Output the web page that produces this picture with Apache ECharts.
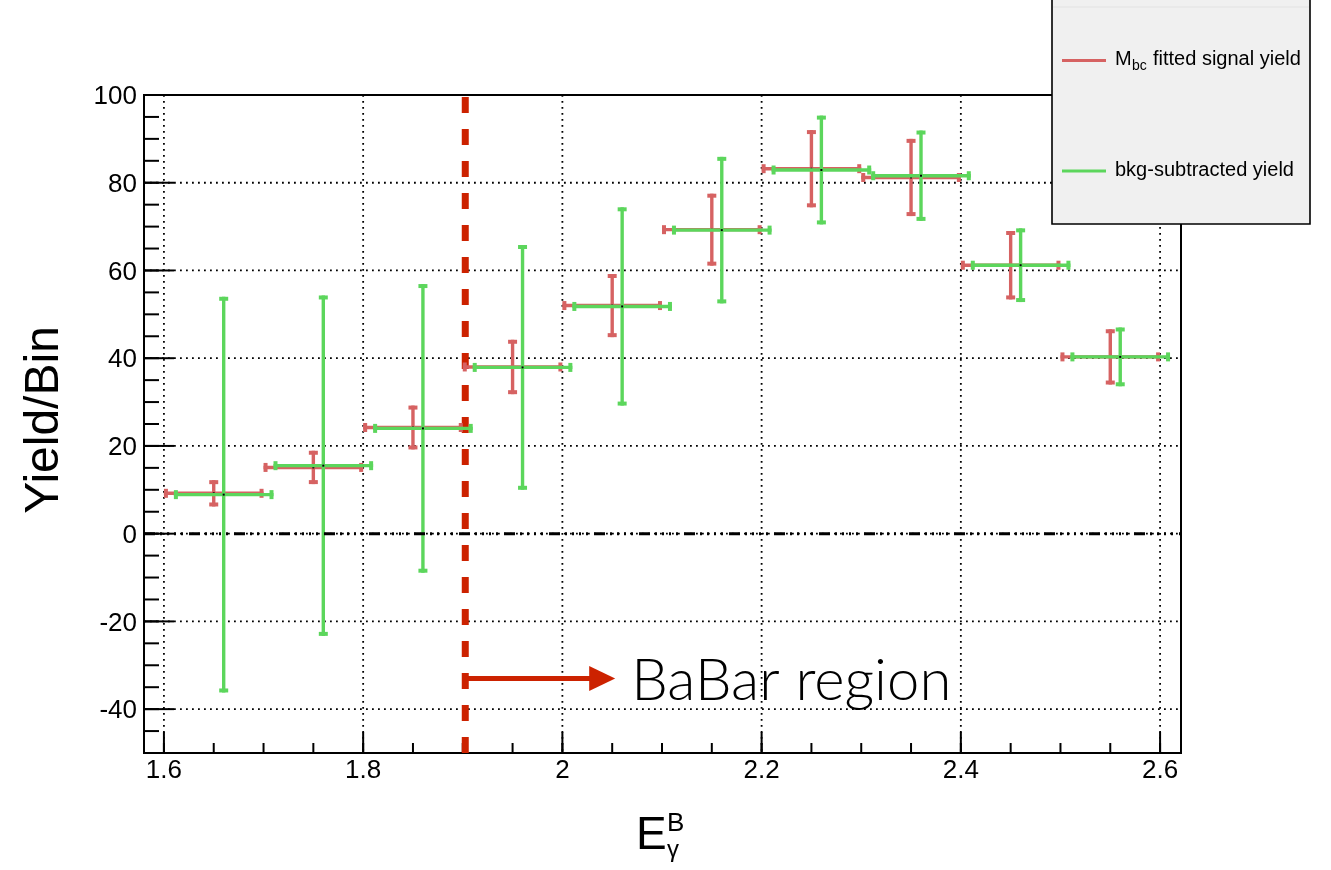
<!DOCTYPE html>
<html>
<head>
<meta charset="utf-8">
<title>Yield per bin vs photon energy</title>
<script src="https://cdn.jsdelivr.net/npm/echarts@6/dist/echarts.min.js"></script>
<style>
  html, body { margin: 0; padding: 0; background: #ffffff; }
  #chart { width: 1331px; height: 870px; }
</style>
</head>
<body>
<div id="chart"></div>
<script>
// ---- data -------------------------------------------------------------
// Mbc fitted signal yield: bin centres, yields, symmetric errors
const binHalfWidth = 0.05;
const fitCenters = [1.65, 1.75, 1.85, 1.95, 2.05, 2.15, 2.25, 2.35, 2.45, 2.55];
const fitYields  = [9.2, 15.1, 24.2, 38.0, 52.0, 69.3, 83.2, 81.2, 61.2, 40.3];
const fitErrors  = [3.0, 3.8, 5.0, 6.2, 7.2, 8.2, 8.8, 8.8, 7.8, 6.3];
// background-subtracted yield (drawn slightly shifted in x)
const subCenters = [1.66, 1.76, 1.86, 1.96, 2.06, 2.16, 2.26, 2.36, 2.46, 2.56];
const subYields  = [8.9, 15.5, 24.0, 37.9, 51.8, 69.2, 82.9, 81.6, 61.2, 40.3];
const subErrors  = [45.1, 38.8, 32.9, 27.9, 22.6, 16.7, 12.4, 10.3, 8.4, 6.7];
// axis ticks
const xTicks = [1.6, 1.8, 2.0, 2.2, 2.4, 2.6];
const xTickLabels = ['1.6', '1.8', '2', '2.2', '2.4', '2.6'];
const yTicks = [-40, -20, 0, 20, 40, 60, 80, 100];
const yTickLabels = ['-40', '-20', '0', '20', '40', '60', '80', '100'];
// BaBar acceptance edge and arrow
const babarEdge = 1.9025;
const arrowY = -33;
const arrowTipX = 2.053;
const babarLabel = 'BaBar region';
const legendLabels = ['fitted signal yield', 'bkg-subtracted yield'];

// ---- layout / style ---------------------------------------------------
const X_RANGE = [1.58, 2.621];
const Y_RANGE = [-50, 100];
const X_MINOR = 0.05, Y_MINOR = 5;
const FONT = '"Liberation Sans", Arial, Helvetica, sans-serif';
const RED = '#d66262';
const GREEN = '#5cd65c';
const BABAR_RED = '#cc2200';

const chart = echarts.init(document.getElementById('chart'), null, { renderer: 'canvas' });

function txt(text, x, y, size, align) {
  return {
    type: 'text',
    style: {
      text: text, x: x, y: y, fill: '#000',
      font: size + 'px ' + FONT,
      align: align || 'center', verticalAlign: 'middle'
    }
  };
}

// frame: dotted grid, tick marks, tick labels
function renderFrame(params, api) {
  const bl = api.coord([X_RANGE[0], Y_RANGE[0]]);
  const tr = api.coord([X_RANGE[1], Y_RANGE[1]]);
  const xl = bl[0], yb = bl[1], xr = tr[0], yt = tr[1];
  const kids = [];
  const dotted = { stroke: '#000', lineWidth: 1.8, lineDash: [1.8, 4.2] };
  const solid = { stroke: '#000', lineWidth: 2 };
  xTicks.forEach(function (v, i) {
    const px = api.coord([v, 0])[0];
    kids.push({ type: 'line', shape: { x1: px, y1: yt, x2: px, y2: yb }, style: dotted });
    kids.push({ type: 'line', shape: { x1: px, y1: yb, x2: px, y2: yb - 21 }, style: solid });
    kids.push(txt(xTickLabels[i], px, yb + 18, 26, 'center'));
  });
  yTicks.forEach(function (v, i) {
    const py = api.coord([X_RANGE[0], v])[1];
    kids.push({ type: 'line', shape: { x1: xl, y1: py, x2: xr, y2: py }, style: dotted });
    kids.push({ type: 'line', shape: { x1: xl, y1: py, x2: xl + 30, y2: py }, style: solid });
    kids.push(txt(yTickLabels[i], xl - 7, py + 2, 26, 'right'));
  });
  // minor ticks
  for (let v = xTicks[0]; v <= X_RANGE[1] + 1e-9; v += X_MINOR) {
    const px = api.coord([v, 0])[0];
    kids.push({ type: 'line', shape: { x1: px, y1: yb, x2: px, y2: yb - 10 }, style: solid });
  }
  for (let v = Y_RANGE[0]; v <= Y_RANGE[1] + 1e-9; v += Y_MINOR) {
    const py = api.coord([X_RANGE[0], v])[1];
    kids.push({ type: 'line', shape: { x1: xl, y1: py, x2: xl + 15, y2: py }, style: solid });
  }
  return { type: 'group', children: kids };
}

// dashed BaBar edge with arrow and label
function renderBabar(params, api) {
  const top = api.coord([babarEdge, Y_RANGE[1]]);
  const bot = api.coord([babarEdge, Y_RANGE[0]]);
  const start = api.coord([babarEdge, arrowY]);
  const tip = api.coord([arrowTipX, arrowY]);
  const head = 26, half = 12.5;
  return {
    type: 'group',
    children: [
      { type: 'line', shape: { x1: top[0], y1: top[1] + 2, x2: bot[0], y2: bot[1] },
        style: { stroke: BABAR_RED, lineWidth: 7, lineDash: [16, 16] } },
      { type: 'line', shape: { x1: start[0], y1: start[1], x2: tip[0] - head + 1, y2: tip[1] },
        style: { stroke: BABAR_RED, lineWidth: 5 } },
      { type: 'polygon',
        shape: { points: [[tip[0] - head, tip[1] - half], [tip[0], tip[1]], [tip[0] - head, tip[1] + half]] },
        style: { fill: BABAR_RED } },
      { type: 'text',
        style: { text: babarLabel, x: tip[0] + 16, y: tip[1] + 3, fill: '#000',
                 font: '300 58px Lato, "Open Sans", sans-serif', align: 'left', verticalAlign: 'middle' } }
    ]
  };
}

// error-bar cross: horizontal bin width, vertical error, end caps, centre dot
function makeErrorBar(color) {
  return function (params, api) {
    const cx = api.value(0), cy = api.value(1), err = api.value(2);
    const c = api.coord([cx, cy]);
    const l = api.coord([cx - binHalfWidth, cy]);
    const r = api.coord([cx + binHalfWidth, cy]);
    const t = api.coord([cx, cy + err]);
    const b = api.coord([cx, cy - err]);
    const lw = 3.4, cap = 9, capT = 4;
    const st = { stroke: color, lineWidth: lw };
    return {
      type: 'group',
      children: [
        { type: 'line', shape: { x1: l[0], y1: l[1], x2: r[0], y2: r[1] }, style: st },
        { type: 'line', shape: { x1: t[0], y1: t[1], x2: b[0], y2: b[1] }, style: st },
        { type: 'rect', shape: { x: l[0], y: l[1] - cap / 2, width: capT, height: cap }, style: { fill: color } },
        { type: 'rect', shape: { x: r[0] - capT, y: r[1] - cap / 2, width: capT, height: cap }, style: { fill: color } },
        { type: 'rect', shape: { x: t[0] - cap / 2, y: t[1], width: cap, height: capT }, style: { fill: color } },
        { type: 'rect', shape: { x: b[0] - cap / 2, y: b[1] - capT, width: cap, height: capT }, style: { fill: color } },
        { type: 'rect', shape: { x: c[0] - 1, y: c[1] - 1, width: 2, height: 2 }, style: { fill: '#000' } }
      ]
    };
  };
}

// dash-dot line at zero yield
function renderZero(params, api) {
  const a = api.coord([X_RANGE[0], 0]);
  const b = api.coord([X_RANGE[1], 0]);
  return { type: 'line', shape: { x1: a[0], y1: a[1], x2: b[0], y2: b[1] },
           style: { stroke: '#000', lineWidth: 3, lineDash: [11, 5, 2, 5, 2, 5, 2, 5, 2, 6] } };
}

const option = {
  animation: false,
  backgroundColor: '#ffffff',
  grid: {
    left: 144, top: 95, right: 150, bottom: 117,
    show: true, borderColor: '#000', borderWidth: 2, backgroundColor: 'transparent'
  },
  xAxis: { type: 'value', min: X_RANGE[0], max: X_RANGE[1], show: false },
  yAxis: { type: 'value', min: Y_RANGE[0], max: Y_RANGE[1], show: false },
  series: [
    { type: 'custom', name: 'frame', z: 1, silent: true, renderItem: renderFrame,
      data: [[X_RANGE[0], Y_RANGE[0]]], encode: { x: 0, y: 1 } },
    { type: 'custom', name: 'BaBar', z: 2, silent: true, renderItem: renderBabar,
      data: [[babarEdge, arrowY]], encode: { x: 0, y: 1 } },
    { type: 'custom', name: 'Mbc fitted signal yield', z: 3, renderItem: makeErrorBar(RED),
      itemStyle: { color: RED },
      data: fitCenters.map(function (c, i) { return [c, fitYields[i], fitErrors[i]]; }),
      encode: { x: 0, y: 1 } },
    { type: 'custom', name: 'bkg-subtracted yield', z: 4, renderItem: makeErrorBar(GREEN),
      itemStyle: { color: GREEN },
      data: subCenters.map(function (c, i) { return [c, subYields[i], subErrors[i]]; }),
      encode: { x: 0, y: 1 } },
    { type: 'custom', name: 'zero', z: 5, silent: true, renderItem: renderZero,
      data: [[X_RANGE[0], 0]], encode: { x: 0, y: 1 } }
  ],
  graphic: [
    // axis titles
    { type: 'text', x: 45, y: 420, rotation: Math.PI / 2, z: 10,
      style: { text: 'Yield/Bin', font: '48px ' + FONT, fill: '#000', align: 'center', verticalAlign: 'middle' } },
    { type: 'text', x: 636, y: 836, z: 10,
      style: { text: 'E', font: '46px ' + FONT, fill: '#000', align: 'left', verticalAlign: 'middle' } },
    { type: 'text', x: 667, y: 824, z: 10,
      style: { text: 'B', font: '26px ' + FONT, fill: '#000', align: 'left', verticalAlign: 'middle' } },
    { type: 'text', x: 667, y: 850, z: 10,
      style: { text: 'γ', font: '24px ' + FONT, fill: '#000', align: 'left', verticalAlign: 'middle' } },
    // legend box
    { type: 'rect', z: 20, shape: { x: 1052, y: -3, width: 258, height: 227 },
      style: { fill: '#f0f0f0', stroke: '#000', lineWidth: 1.6 } },
    { type: 'line', z: 21, shape: { x1: 1053, y1: 7, x2: 1309, y2: 7 },
      style: { stroke: '#e2e2e2', lineWidth: 1 } },
    { type: 'line', z: 21, shape: { x1: 1062, y1: 60.5, x2: 1106, y2: 60.5 },
      style: { stroke: RED, lineWidth: 3 } },
    { type: 'text', x: 1115, y: 59, z: 21,
      style: { text: 'M', font: '20px ' + FONT, fill: '#000', align: 'left', verticalAlign: 'middle' } },
    { type: 'text', x: 1132, y: 66, z: 21,
      style: { text: 'bc', font: '14px ' + FONT, fill: '#000', align: 'left', verticalAlign: 'middle' } },
    { type: 'text', x: 1153, y: 59, z: 21,
      style: { text: legendLabels[0], font: '20px ' + FONT, fill: '#000', align: 'left', verticalAlign: 'middle' } },
    { type: 'line', z: 21, shape: { x1: 1062, y1: 171, x2: 1106, y2: 171 },
      style: { stroke: GREEN, lineWidth: 3 } },
    { type: 'text', x: 1115, y: 170, z: 21,
      style: { text: legendLabels[1], font: '20px ' + FONT, fill: '#000', align: 'left', verticalAlign: 'middle' } }
  ]
};

chart.setOption(option);
</script>
</body>
</html>
